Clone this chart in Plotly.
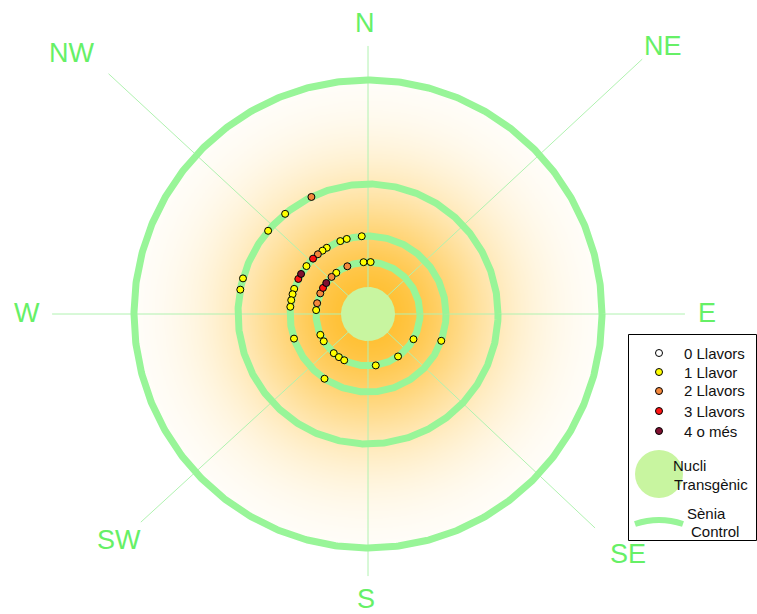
import numpy as np
import plotly.graph_objects as go

# ---- canvas / compass geometry -------------------------------------------
W, H = 757, 614
CX, CY = 368, 314          # pixel position of the compass centre
PX_PER_M = 26.0            # drawing scale

# ---- experimental layout (metres) ----------------------------------------
nucleus_radius_m = 1.04
ring_distances_m = [2, 3, 5, 9]

seed_classes = ["0 Llavors", "1 Llavor", "2 Llavors", "3 Llavors", "4 o més"]
class_colors = ["#ffffff", "#ffff00", "#f5883c", "#ff1414", "#801030"]

# ---- seedlings found on each control ring --------------------------------
# bearing in degrees clockwise from north, seeds = index into seed_classes
ring2_bearing = [355.1, 2.9, 336.6, 322.4, 315.5, 306.6, 300.1, 293.4, 282.0,
                 274.3, 246.4, 238.3, 221.2, 214.0, 207.2, 171.4, 144.7, 119.0]
ring2_seeds = [1, 1, 2, 1, 2, 4, 3, 2, 2, 1, 1, 1, 1, 1, 1, 1, 1, 1]

ring3_bearing = [355.4, 344.2, 339.2, 328.1, 324.3, 320.0, 315.2, 307.9, 300.9,
                 296.7, 288.8, 284.7, 280.2, 275.3, 251.6, 213.9, 110.1]
ring3_seeds = [1, 1, 1, 1, 1, 2, 3, 1, 4, 3, 1, 1, 1, 1, 1, 1, 1]

ring5_bearing = [334.2, 320.4, 309.8, 285.9, 280.8]
ring5_seeds = [2, 1, 1, 1, 1]

# ---- compass rose ---------------------------------------------------------
compass_names = ["N", "NE", "E", "SE", "S", "SW", "W", "NW"]
compass_bearing = [0, 47.1, 90, 133.3, 180, 227.5, 270, 312.8]
compass_length_m = [10.31, 14.4, 12.19, 12.0, 10.08, 11.85, 12.15, 13.6]

RING_COLOR = "#98f598"
NUCLEUS_COLOR = "#c8f5a0"
AXIS_LINE_COLOR = "#b0f2b0"
LABEL_COLOR = "#66f066"
FONT = "Liberation Sans, Arial, sans-serif"


def px_to_data(px, py):
    return (px - CX) / PX_PER_M, (CY - py) / PX_PER_M


def polar_to_xy(dist, bearing):
    b = np.radians(np.asarray(bearing, dtype=float))
    d = np.asarray(dist, dtype=float)
    return d * np.sin(b), d * np.cos(b)


fig = go.Figure()

# radial pollen-density gradient around the transgenic nucleus
g = np.linspace(-9.3, 9.3, 311)
GX, GY = np.meshgrid(g, g)
R = np.hypot(GX, GY)
z = np.exp(-(R / 4.8) ** 2)
z[R > 9.0] = 0.0
fig.add_trace(go.Heatmap(
    x=g, y=g, z=np.round(z, 3), zmin=0, zmax=1, zsmooth="best",
    colorscale=[[0, "#ffffff"], [1, "rgb(255,190,45)"]],
    showscale=False, hoverinfo="skip"))

# compass lines
for b, L in zip(compass_bearing, compass_length_m):
    ex, ey = polar_to_xy(L, b)
    fig.add_trace(go.Scatter(x=[0, float(ex)], y=[0, float(ey)], mode="lines",
                             line=dict(color=AXIS_LINE_COLOR, width=1),
                             hoverinfo="skip", showlegend=False))

# control rings
t = np.linspace(0, 2 * np.pi, 721)
for d in ring_distances_m:
    fig.add_trace(go.Scatter(x=d * np.cos(t), y=d * np.sin(t), mode="lines",
                             line=dict(color=RING_COLOR, width=7),
                             hoverinfo="skip", showlegend=False))

# transgenic nucleus
fig.add_trace(go.Scatter(x=nucleus_radius_m * np.cos(t),
                         y=nucleus_radius_m * np.sin(t),
                         mode="lines", fill="toself", fillcolor=NUCLEUS_COLOR,
                         line=dict(color=NUCLEUS_COLOR, width=0),
                         hoverinfo="skip", showlegend=False))

# seedlings, grouped by seed class
dist_all = [2] * len(ring2_bearing) + [3] * len(ring3_bearing) + [5] * len(ring5_bearing)
bear_all = ring2_bearing + ring3_bearing + ring5_bearing
seed_all = ring2_seeds + ring3_seeds + ring5_seeds
px_all, py_all = polar_to_xy(dist_all, bear_all)
seed_arr = np.array(seed_all)
for k, (name, col) in enumerate(zip(seed_classes, class_colors)):
    sel = seed_arr == k
    if not sel.any():
        continue
    fig.add_trace(go.Scatter(x=px_all[sel], y=py_all[sel], mode="markers",
                             name=name,
                             marker=dict(size=7, color=col,
                                         line=dict(color="black", width=1)),
                             showlegend=False))

# ---- key --------------------------------------------------------------------
key_rows_y = [353, 372, 391, 411, 431]
kx, ky = zip(*[px_to_data(659, yy) for yy in key_rows_y])
fig.add_trace(go.Scatter(x=list(kx), y=list(ky), mode="markers",
                         marker=dict(size=7, color=class_colors,
                                     line=dict(color="black", width=1)),
                         hoverinfo="skip", showlegend=False))

annotations = []
for name, yy in zip(seed_classes, key_rows_y):
    annotations.append(dict(x=682 / W, y=1 - yy / H, xref="paper", yref="paper",
                            text=name, showarrow=False, xanchor="left",
                            yanchor="middle",
                            font=dict(family=FONT, size=15, color="#111111")))
for txt, x0, yy in [("Nucli", 671, 465), ("Transgènic", 672, 484),
                    ("Sènia", 685, 513), ("Control", 689, 531)]:
    annotations.append(dict(x=x0 / W, y=1 - yy / H, xref="paper", yref="paper",
                            text=txt, showarrow=False, xanchor="left",
                            yanchor="middle",
                            font=dict(family=FONT, size=15, color="#111111")))

# compass labels
label_px = {"N": (365, 23), "NE": (663, 46), "E": (707, 313), "SE": (628, 554),
            "S": (366, 599), "SW": (119, 540), "W": (27, 313), "NW": (71, 53)}
for name in compass_names:
    lx, ly = label_px[name]
    annotations.append(dict(x=lx / W, y=1 - ly / H, xref="paper", yref="paper",
                            text=name, showarrow=False, xanchor="center",
                            yanchor="middle",
                            font=dict(family=FONT, size=27, color=LABEL_COLOR)))

nx0, ny0 = px_to_data(635, 450)
nx1, ny1 = px_to_data(683, 498)
a0 = px_to_data(635, 524)
am = px_to_data(659, 516)
a1 = px_to_data(683, 524)
shapes = [
    dict(type="rect", xref="paper", yref="paper",
         x0=628.5 / W, x1=756.5 / W, y0=1 - 540.5 / H, y1=1 - 334.5 / H,
         line=dict(color="black", width=1), fillcolor="rgba(0,0,0,0)", layer="below"),
    dict(type="circle", xref="x", yref="y", x0=nx0, x1=nx1, y0=ny1, y1=ny0,
         fillcolor=NUCLEUS_COLOR, line=dict(width=0), layer="below"),
    dict(type="path", xref="x", yref="y",
         path=f"M {a0[0]},{a0[1]} Q {am[0]},{am[1]} {a1[0]},{a1[1]}",
         line=dict(color=RING_COLOR, width=6), layer="below"),
]

fig.update_layout(
    width=W, height=H, margin=dict(l=0, r=0, t=0, b=0),
    paper_bgcolor="white", plot_bgcolor="white",
    xaxis=dict(range=[-CX / PX_PER_M, (W - CX) / PX_PER_M], visible=False,
               fixedrange=True),
    yaxis=dict(range=[-(H - CY) / PX_PER_M, CY / PX_PER_M], visible=False,
               fixedrange=True),
    annotations=annotations, shapes=shapes, showlegend=False,
)

fig.write_html("out.html")
